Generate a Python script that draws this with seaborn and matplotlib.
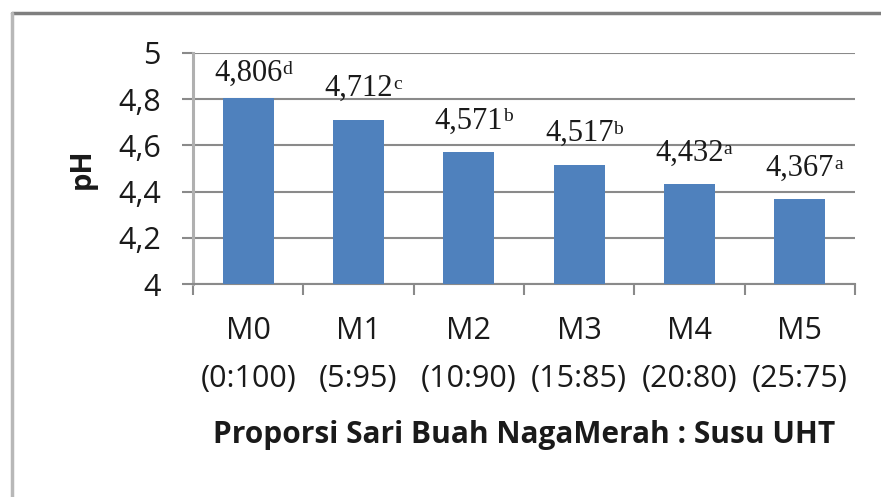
import matplotlib
matplotlib.use("Agg")
import matplotlib.pyplot as plt
import seaborn as sns
import pandas as pd
from matplotlib.lines import Line2D

codes = ["M0", "M1", "M2", "M3", "M4", "M5"]
ratios = ["(0:100)", "(5:95)", "(10:90)", "(15:85)", "(20:80)", "(25:75)"]
ph = [4.806, 4.712, 4.571, 4.517, 4.432, 4.367]
letters = ["d", "c", "b", "b", "a", "a"]
yticks = [4, 4.2, 4.4, 4.6, 4.8, 5]
ytick_labels = ["4", "4,2", "4,4", "4,6", "4,8", "5"]
xlabel = "Proporsi Sari Buah NagaMerah : Susu UHT"
ylabel = "pH"

sns.set_theme(style="white")
plt.rcParams["font.family"] = ["Open Sans", "DejaVu Sans"]

df = pd.DataFrame({"cat": [f"{c}\n{r}" for c, r in zip(codes, ratios)], "ph": ph})

fig = plt.figure(figsize=(8.81, 4.97), dpi=100)
fig.patch.set_facecolor("white")
ax = fig.add_axes([193 / 881, 1 - 284 / 497, (855 - 193) / 881, (284 - 53) / 497])

sns.barplot(data=df, x="cat", y="ph", color="#4F81BD", saturation=1, width=0.46,
            linewidth=0, ax=ax, zorder=3)

ax.set_ylim(4, 5)
ax.set_xlim(-0.5, len(codes) - 0.5)
ax.set_yticks(yticks)
ax.set_yticklabels(ytick_labels)
ax.yaxis.grid(True, color="#8a8a8a", linewidth=1.5, zorder=0)
ax.set_axisbelow(True)

for s in ["top", "right"]:
    ax.spines[s].set_visible(False)
ax.spines["left"].set_color("#b0b0b0")
ax.spines["left"].set_linewidth(2.2)
ax.spines["bottom"].set_color("#8a8a8a")
ax.spines["bottom"].set_linewidth(1.5)

ax.tick_params(axis="y", which="major", direction="out", length=8, width=1.5,
               color="#8a8a8a", pad=15, labelsize=22, labelcolor="#1a1a1a", left=True)
ax.tick_params(axis="x", which="major", length=0, pad=23, labelsize=22, labelcolor="#1a1a1a")
ax.set_xticks([i - 0.5 for i in range(len(codes) + 1)], minor=True)
ax.tick_params(axis="x", which="minor", direction="out", length=8, width=1.5,
               color="#8a8a8a", bottom=True)
for lab in ax.get_xticklabels():
    lab.set_linespacing(1.8)

for i, (v, l) in enumerate(zip(ph, letters)):
    num = ax.annotate(f"{v:.3f}".replace(".", ","), xy=(i, min(v + 0.072, 4.848)),
                      ha="center", va="bottom", family="Liberation Serif",
                      fontsize=22, color="#1a1a1a", zorder=5)
    ax.annotate(l, xy=(1.0, 0.93), xycoords=num, ha="left", va="top",
                family="Liberation Serif", fontsize=14, color="#1a1a1a", zorder=5)

ax.set_xlabel(xlabel, fontsize=21.5, fontweight="bold", color="#1a1a1a")
ax.xaxis.set_label_coords(0.5, -(420 - 284) / 231)
ax.set_ylabel(ylabel, fontsize=21, fontweight="bold", color="#1a1a1a")
ax.yaxis.set_label_coords((97 - 193) / 662, 0.5)

fig.add_artist(Line2D([12 / 881, 1], [1 - 13 / 497, 1 - 13 / 497], color="#7f7f7f",
                      linewidth=2.5, transform=fig.transFigure))
fig.add_artist(Line2D([12 / 881, 12 / 881], [0, 1 - 13 / 497], color="#b8b8b8",
                      linewidth=2.5, transform=fig.transFigure))

fig.savefig("out.png", dpi=100)
